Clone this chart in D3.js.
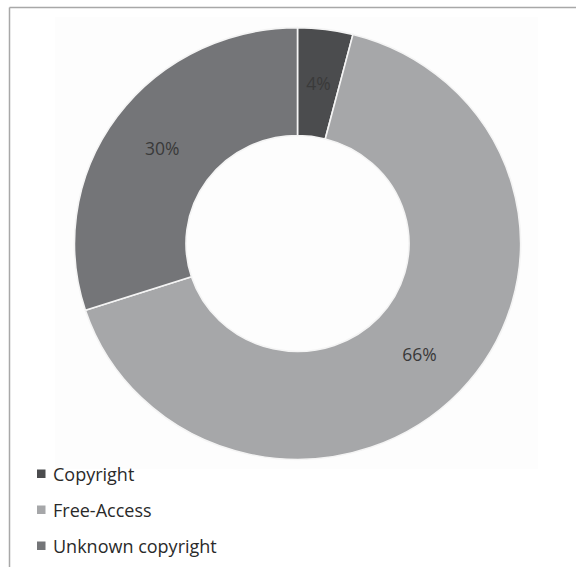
<!DOCTYPE html>
<html>
<head>
<meta charset="utf-8">
<script src="https://cdn.jsdelivr.net/npm/d3@7"></script>
<style>
  body { margin: 0; background: #fff; }
  svg { display: block; }
</style>
</head>
<body>
<div id="chart"></div>
<script>
// data
const categories = ["Copyright", "Free-Access", "Unknown copyright"];
const shares = [4, 66, 30];
const sliceColors = ["#4b4c4e", "#a6a7a9", "#747578"];

const width = 576, height = 567;
const cx = 297.5, cy = 243.5;
const outerR = 223, innerR = 111.5;
const squash = 0.968; // the donut is slightly flattened in the source

const svg = d3.select("#chart").append("svg")
    .attr("width", width)
    .attr("height", height);

// faint plot background
svg.append("rect")
    .attr("x", 55).attr("y", 17)
    .attr("width", 483).attr("height", 452)
    .attr("fill", "#fdfdfd");

// frame lines (only top and left are visible)
svg.append("line")
    .attr("x1", 9.5).attr("y1", 7.5).attr("x2", width).attr("y2", 7.5)
    .attr("stroke", "#a8a8a8").attr("stroke-width", 1.5);
svg.append("line")
    .attr("x1", 9.5).attr("y1", 7.5).attr("x2", 9.5).attr("y2", height)
    .attr("stroke", "#a8a8a8").attr("stroke-width", 1.5);

const pie = d3.pie().sort(null).value(d => d.value);
const arcs = pie(categories.map((c, i) => ({ name: c, value: shares[i], color: sliceColors[i] })));

const arc = d3.arc().innerRadius(innerR).outerRadius(outerR);
const labelArc = d3.arc().innerRadius((innerR + outerR) / 2).outerRadius((innerR + outerR) / 2);

const donut = svg.append("g")
    .attr("transform", `translate(${cx},${cy}) scale(1,${squash})`);

donut.selectAll("path")
    .data(arcs)
    .enter()
    .append("path")
    .attr("d", arc)
    .attr("fill", d => d.data.color)
    .attr("stroke", "#f4f4f4")
    .attr("stroke-width", 1.6);

// slice labels
svg.append("g")
    .selectAll("text")
    .data(arcs)
    .enter()
    .append("text")
    .attr("x", d => cx + labelArc.centroid(d)[0])
    .attr("y", d => cy + labelArc.centroid(d)[1] * squash)
    .attr("text-anchor", "middle")
    .attr("dominant-baseline", "central")
    .attr("font-family", "Open Sans")
    .attr("font-size", "17.5px")
    .attr("fill", "#3a3a3a")
    .text(d => d.data.value + "%");

// legend
const legend = svg.append("g")
    .selectAll("g")
    .data(arcs)
    .enter()
    .append("g")
    .attr("transform", (d, i) => `translate(37,${474 + i * 36})`);

legend.append("rect")
    .attr("x", 0).attr("y", -4.5)
    .attr("width", 8.5).attr("height", 8.5)
    .attr("fill", d => d.data.color);

legend.append("text")
    .attr("x", 16)
    .attr("y", 0)
    .attr("dominant-baseline", "central")
    .attr("font-family", "Open Sans")
    .attr("font-size", "18px")
    .attr("fill", "#2a2a2a")
    .text(d => d.data.name);
</script>
</body>
</html>
